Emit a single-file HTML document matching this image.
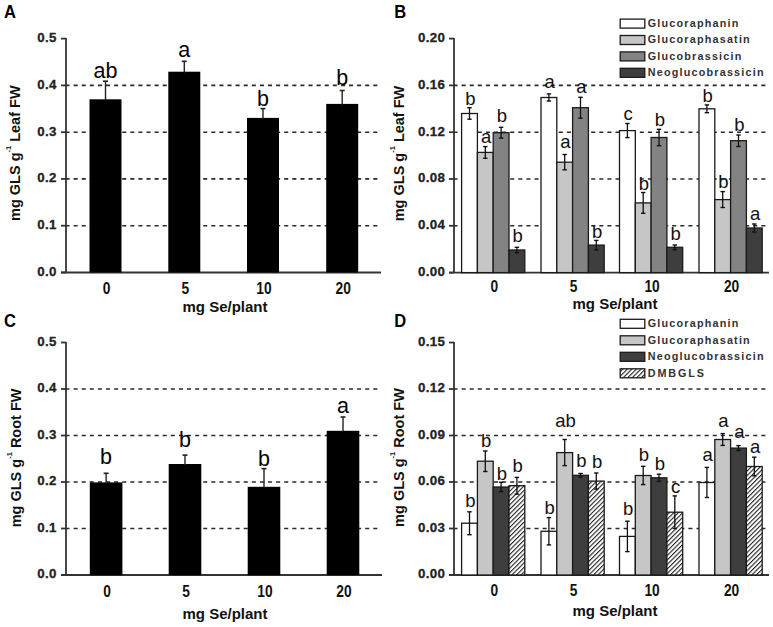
<!DOCTYPE html>
<html><head><meta charset="utf-8"><style>
html,body{margin:0;padding:0;background:#fff;}
svg{display:block;}
text{font-family:"Liberation Sans", sans-serif;}
.tick{font-size:13.3px;font-weight:bold;fill:#222;letter-spacing:0.3px;stroke:#222;stroke-width:0.3px;}
.ytitle{font-size:14.5px;font-weight:bold;fill:#111;}
.xtitle{font-size:15px;font-weight:bold;fill:#111;}
.xl{font-size:15.8px;font-weight:bold;fill:#111;}
.pl{font-size:17.8px;font-weight:bold;fill:#000;}
.sig{font-size:21.5px;fill:#000;}
.sig2{font-size:18.5px;fill:#111;}
.leg{font-size:10.8px;font-weight:bold;fill:#333;letter-spacing:1.2px;}
</style></head><body>
<svg width="773" height="627" viewBox="0 0 773 627">
<defs>
<pattern id="hatch" patternUnits="userSpaceOnUse" width="3.2" height="4" patternTransform="rotate(45)">
<rect width="3.2" height="4" fill="#fff"/><rect x="0" y="0" width="1.1" height="4" fill="#222"/>
</pattern>
</defs>
<rect width="773" height="627" fill="#fff"/>

<text transform="translate(4.1,17.6) scale(0.93,1)" class="pl">A</text>
<text transform="translate(394.3,17.6) scale(0.93,1)" class="pl">B</text>
<text transform="translate(4.1,326.8) scale(0.93,1)" class="pl">C</text>
<text transform="translate(394.3,326.8) scale(0.93,1)" class="pl">D</text>
<line x1="65.5" y1="85.4" x2="379" y2="85.4" stroke="#2a2a2a" stroke-width="1.6" stroke-dasharray="4.05 4.05"/>
<line x1="65.5" y1="132.2" x2="379" y2="132.2" stroke="#2a2a2a" stroke-width="1.6" stroke-dasharray="4.05 4.05"/>
<line x1="65.5" y1="178.9" x2="379" y2="178.9" stroke="#2a2a2a" stroke-width="1.6" stroke-dasharray="4.05 4.05"/>
<line x1="65.5" y1="225.7" x2="379" y2="225.7" stroke="#2a2a2a" stroke-width="1.6" stroke-dasharray="4.05 4.05"/>
<line x1="66" y1="38.1" x2="66" y2="272.5" stroke="#333" stroke-width="1.8"/>
<line x1="61" y1="272.5" x2="381" y2="272.5" stroke="#333" stroke-width="1.8"/>
<line x1="61" y1="38.6" x2="66" y2="38.6" stroke="#333" stroke-width="1.8"/>
<text x="56.7" y="41.9" text-anchor="end" class="tick">0.5</text>
<line x1="61" y1="85.4" x2="66" y2="85.4" stroke="#333" stroke-width="1.8"/>
<text x="56.7" y="88.7" text-anchor="end" class="tick">0.4</text>
<line x1="61" y1="132.2" x2="66" y2="132.2" stroke="#333" stroke-width="1.8"/>
<text x="56.7" y="135.5" text-anchor="end" class="tick">0.3</text>
<line x1="61" y1="178.9" x2="66" y2="178.9" stroke="#333" stroke-width="1.8"/>
<text x="56.7" y="182.2" text-anchor="end" class="tick">0.2</text>
<line x1="61" y1="225.7" x2="66" y2="225.7" stroke="#333" stroke-width="1.8"/>
<text x="56.7" y="229.0" text-anchor="end" class="tick">0.1</text>
<line x1="61" y1="272.5" x2="66" y2="272.5" stroke="#333" stroke-width="1.8"/>
<text x="56.7" y="275.8" text-anchor="end" class="tick">0.0</text>
<text transform="translate(20.4,153.2) rotate(-90) scale(1.0,1)" text-anchor="middle" class="ytitle">mg GLS g<tspan dy="-9" font-size="7.5">-1</tspan><tspan dy="9"> Leaf FW</tspan></text>
<rect x="89.5" y="99.3" width="32" height="173.2" fill="#000"/>
<line x1="105.5" y1="81.2" x2="105.5" y2="100.3" stroke="#222" stroke-width="1.4"/>
<line x1="103.0" y1="81.2" x2="108.0" y2="81.2" stroke="#222" stroke-width="1.6"/>
<text x="105.5" y="78.1" text-anchor="middle" class="sig">ab</text>
<rect x="168.3" y="71.7" width="32" height="200.8" fill="#000"/>
<line x1="184.3" y1="61.3" x2="184.3" y2="72.7" stroke="#222" stroke-width="1.4"/>
<line x1="181.8" y1="61.3" x2="186.8" y2="61.3" stroke="#222" stroke-width="1.6"/>
<text x="184.3" y="56.5" text-anchor="middle" class="sig">a</text>
<rect x="247" y="117.9" width="32" height="154.6" fill="#000"/>
<line x1="263" y1="108.6" x2="263" y2="118.9" stroke="#222" stroke-width="1.4"/>
<line x1="260.5" y1="108.6" x2="265.5" y2="108.6" stroke="#222" stroke-width="1.6"/>
<text x="263" y="106.1" text-anchor="middle" class="sig">b</text>
<rect x="326.2" y="103.9" width="32" height="168.6" fill="#000"/>
<line x1="342.2" y1="90.5" x2="342.2" y2="104.9" stroke="#222" stroke-width="1.4"/>
<line x1="339.7" y1="90.5" x2="344.7" y2="90.5" stroke="#222" stroke-width="1.6"/>
<text x="342.2" y="85.0" text-anchor="middle" class="sig">b</text>
<text transform="translate(106.5,293.8) scale(0.87,1)" text-anchor="middle" class="xl">0</text>
<text transform="translate(185.3,293.8) scale(0.87,1)" text-anchor="middle" class="xl">5</text>
<text transform="translate(264.0,293.8) scale(0.87,1)" text-anchor="middle" class="xl">10</text>
<text transform="translate(343.2,293.8) scale(0.87,1)" text-anchor="middle" class="xl">20</text>
<text x="225" y="312" text-anchor="middle" class="xtitle">mg Se/plant</text>
<line x1="65.5" y1="389.0" x2="380" y2="389.0" stroke="#2a2a2a" stroke-width="1.6" stroke-dasharray="4.05 4.05"/>
<line x1="65.5" y1="435.5" x2="380" y2="435.5" stroke="#2a2a2a" stroke-width="1.6" stroke-dasharray="4.05 4.05"/>
<line x1="65.5" y1="482.0" x2="380" y2="482.0" stroke="#2a2a2a" stroke-width="1.6" stroke-dasharray="4.05 4.05"/>
<line x1="65.5" y1="528.5" x2="380" y2="528.5" stroke="#2a2a2a" stroke-width="1.6" stroke-dasharray="4.05 4.05"/>
<line x1="66" y1="342.0" x2="66" y2="575" stroke="#333" stroke-width="1.8"/>
<line x1="61" y1="575" x2="382" y2="575" stroke="#333" stroke-width="1.8"/>
<line x1="61" y1="342.5" x2="66" y2="342.5" stroke="#333" stroke-width="1.8"/>
<text x="56.7" y="345.8" text-anchor="end" class="tick">0.5</text>
<line x1="61" y1="389.0" x2="66" y2="389.0" stroke="#333" stroke-width="1.8"/>
<text x="56.7" y="392.3" text-anchor="end" class="tick">0.4</text>
<line x1="61" y1="435.5" x2="66" y2="435.5" stroke="#333" stroke-width="1.8"/>
<text x="56.7" y="438.8" text-anchor="end" class="tick">0.3</text>
<line x1="61" y1="482.0" x2="66" y2="482.0" stroke="#333" stroke-width="1.8"/>
<text x="56.7" y="485.3" text-anchor="end" class="tick">0.2</text>
<line x1="61" y1="528.5" x2="66" y2="528.5" stroke="#333" stroke-width="1.8"/>
<text x="56.7" y="531.8" text-anchor="end" class="tick">0.1</text>
<line x1="61" y1="575.0" x2="66" y2="575.0" stroke="#333" stroke-width="1.8"/>
<text x="56.7" y="578.3" text-anchor="end" class="tick">0.0</text>
<text transform="translate(21.2,457.9) rotate(-90) scale(1.0,1)" text-anchor="middle" class="ytitle">mg GLS g<tspan dy="-9" font-size="7.5">-1</tspan><tspan dy="9"> Root FW</tspan></text>
<rect x="89.8" y="482.4" width="32.6" height="92.8" fill="#000"/>
<line x1="106.1" y1="473.3" x2="106.1" y2="483.4" stroke="#222" stroke-width="1.4"/>
<line x1="103.6" y1="473.3" x2="108.6" y2="473.3" stroke="#222" stroke-width="1.6"/>
<text x="106.1" y="464.4" text-anchor="middle" class="sig">b</text>
<rect x="168.7" y="464.0" width="32.6" height="111.2" fill="#000"/>
<line x1="185.0" y1="455.1" x2="185.0" y2="465.0" stroke="#222" stroke-width="1.4"/>
<line x1="182.5" y1="455.1" x2="187.5" y2="455.1" stroke="#222" stroke-width="1.6"/>
<text x="185.0" y="446.7" text-anchor="middle" class="sig">b</text>
<rect x="247.7" y="486.8" width="32.6" height="88.4" fill="#000"/>
<line x1="264.0" y1="468.6" x2="264.0" y2="487.8" stroke="#222" stroke-width="1.4"/>
<line x1="261.5" y1="468.6" x2="266.5" y2="468.6" stroke="#222" stroke-width="1.6"/>
<text x="264.0" y="465.8" text-anchor="middle" class="sig">b</text>
<rect x="326.7" y="430.8" width="32.6" height="144.4" fill="#000"/>
<line x1="343.0" y1="417.0" x2="343.0" y2="431.8" stroke="#222" stroke-width="1.4"/>
<line x1="340.5" y1="417.0" x2="345.5" y2="417.0" stroke="#222" stroke-width="1.6"/>
<text x="343.0" y="412.8" text-anchor="middle" class="sig">a</text>
<text transform="translate(107.1,597.2) scale(0.87,1)" text-anchor="middle" class="xl">0</text>
<text transform="translate(186.0,597.2) scale(0.87,1)" text-anchor="middle" class="xl">5</text>
<text transform="translate(265.0,597.2) scale(0.87,1)" text-anchor="middle" class="xl">10</text>
<text transform="translate(344.0,597.2) scale(0.87,1)" text-anchor="middle" class="xl">20</text>
<text x="225" y="619" text-anchor="middle" class="xtitle">mg Se/plant</text>
<line x1="453.5" y1="85.4" x2="767" y2="85.4" stroke="#2a2a2a" stroke-width="1.6" stroke-dasharray="4.05 4.05"/>
<line x1="453.5" y1="132.2" x2="767" y2="132.2" stroke="#2a2a2a" stroke-width="1.6" stroke-dasharray="4.05 4.05"/>
<line x1="453.5" y1="179.0" x2="767" y2="179.0" stroke="#2a2a2a" stroke-width="1.6" stroke-dasharray="4.05 4.05"/>
<line x1="453.5" y1="225.8" x2="767" y2="225.8" stroke="#2a2a2a" stroke-width="1.6" stroke-dasharray="4.05 4.05"/>
<line x1="454" y1="38.1" x2="454" y2="272.6" stroke="#333" stroke-width="1.8"/>
<line x1="449" y1="272.6" x2="769" y2="272.6" stroke="#333" stroke-width="1.8"/>
<line x1="449" y1="38.6" x2="454" y2="38.6" stroke="#333" stroke-width="1.8"/>
<text x="445.2" y="41.9" text-anchor="end" class="tick">0.20</text>
<line x1="449" y1="85.4" x2="454" y2="85.4" stroke="#333" stroke-width="1.8"/>
<text x="445.2" y="88.7" text-anchor="end" class="tick">0.16</text>
<line x1="449" y1="132.2" x2="454" y2="132.2" stroke="#333" stroke-width="1.8"/>
<text x="445.2" y="135.5" text-anchor="end" class="tick">0.12</text>
<line x1="449" y1="179.0" x2="454" y2="179.0" stroke="#333" stroke-width="1.8"/>
<text x="445.2" y="182.3" text-anchor="end" class="tick">0.08</text>
<line x1="449" y1="225.8" x2="454" y2="225.8" stroke="#333" stroke-width="1.8"/>
<text x="445.2" y="229.1" text-anchor="end" class="tick">0.04</text>
<line x1="449" y1="272.6" x2="454" y2="272.6" stroke="#333" stroke-width="1.8"/>
<text x="445.2" y="275.9" text-anchor="end" class="tick">0.00</text>
<text transform="translate(404.4,153.5) rotate(-90) scale(1.0,1)" text-anchor="middle" class="ytitle">mg GLS g<tspan dy="-9" font-size="7.5">-1</tspan><tspan dy="9"> Leaf FW</tspan></text>
<rect x="461.6" y="113.5" width="15.8" height="159.1" fill="#ffffff" stroke="#1a1a1a" stroke-width="1.3"/>
<rect x="477.4" y="152.4" width="15.8" height="120.2" fill="#c6c6c6" stroke="#1a1a1a" stroke-width="1.3"/>
<rect x="493.2" y="132.7" width="15.8" height="139.9" fill="#838383" stroke="#1a1a1a" stroke-width="1.3"/>
<rect x="509.0" y="250.0" width="15.8" height="22.6" fill="#3e3e3e" stroke="#1a1a1a" stroke-width="1.3"/>
<rect x="541.0" y="97.5" width="15.8" height="175.1" fill="#ffffff" stroke="#1a1a1a" stroke-width="1.3"/>
<rect x="556.8" y="162.2" width="15.8" height="110.4" fill="#c6c6c6" stroke="#1a1a1a" stroke-width="1.3"/>
<rect x="572.6" y="107.7" width="15.8" height="164.9" fill="#838383" stroke="#1a1a1a" stroke-width="1.3"/>
<rect x="588.4" y="245.1" width="15.8" height="27.5" fill="#3e3e3e" stroke="#1a1a1a" stroke-width="1.3"/>
<rect x="619.5" y="130.6" width="15.8" height="142.0" fill="#ffffff" stroke="#1a1a1a" stroke-width="1.3"/>
<rect x="635.3" y="202.9" width="15.8" height="69.7" fill="#c6c6c6" stroke="#1a1a1a" stroke-width="1.3"/>
<rect x="651.1" y="137.5" width="15.8" height="135.1" fill="#838383" stroke="#1a1a1a" stroke-width="1.3"/>
<rect x="666.9" y="247.3" width="15.8" height="25.3" fill="#3e3e3e" stroke="#1a1a1a" stroke-width="1.3"/>
<rect x="699.0" y="108.8" width="15.8" height="163.8" fill="#ffffff" stroke="#1a1a1a" stroke-width="1.3"/>
<rect x="714.8" y="199.6" width="15.8" height="73.0" fill="#c6c6c6" stroke="#1a1a1a" stroke-width="1.3"/>
<rect x="730.6" y="140.7" width="15.8" height="131.9" fill="#838383" stroke="#1a1a1a" stroke-width="1.3"/>
<rect x="746.4" y="228.0" width="15.8" height="44.6" fill="#3e3e3e" stroke="#1a1a1a" stroke-width="1.3"/>
<line x1="469.5" y1="107.7" x2="469.5" y2="119.2" stroke="#111" stroke-width="1.3"/>
<line x1="467.3" y1="107.7" x2="471.7" y2="107.7" stroke="#111" stroke-width="1.4"/>
<line x1="467.3" y1="119.2" x2="471.7" y2="119.2" stroke="#111" stroke-width="1.4"/>
<text x="470.3" y="104.9" text-anchor="middle" class="sig2">b</text>
<line x1="485.3" y1="146.6" x2="485.3" y2="158.3" stroke="#111" stroke-width="1.3"/>
<line x1="483.1" y1="146.6" x2="487.5" y2="146.6" stroke="#111" stroke-width="1.4"/>
<line x1="483.1" y1="158.3" x2="487.5" y2="158.3" stroke="#111" stroke-width="1.4"/>
<text x="486.1" y="142.5" text-anchor="middle" class="sig2">a</text>
<line x1="501.1" y1="127.3" x2="501.1" y2="138.1" stroke="#111" stroke-width="1.3"/>
<line x1="498.9" y1="127.3" x2="503.3" y2="127.3" stroke="#111" stroke-width="1.4"/>
<line x1="498.9" y1="138.1" x2="503.3" y2="138.1" stroke="#111" stroke-width="1.4"/>
<text x="501.9" y="121.5" text-anchor="middle" class="sig2">b</text>
<line x1="516.9" y1="247.3" x2="516.9" y2="252.7" stroke="#111" stroke-width="1.3"/>
<line x1="514.7" y1="247.3" x2="519.1" y2="247.3" stroke="#111" stroke-width="1.4"/>
<line x1="514.7" y1="252.7" x2="519.1" y2="252.7" stroke="#111" stroke-width="1.4"/>
<text x="517.7" y="242.0" text-anchor="middle" class="sig2">b</text>
<line x1="548.9" y1="93.9" x2="548.9" y2="101.0" stroke="#111" stroke-width="1.3"/>
<line x1="546.7" y1="93.9" x2="551.1" y2="93.9" stroke="#111" stroke-width="1.4"/>
<line x1="546.7" y1="101.0" x2="551.1" y2="101.0" stroke="#111" stroke-width="1.4"/>
<text x="549.7" y="88.3" text-anchor="middle" class="sig2">a</text>
<line x1="564.7" y1="154.5" x2="564.7" y2="169.8" stroke="#111" stroke-width="1.3"/>
<line x1="562.5" y1="154.5" x2="566.9" y2="154.5" stroke="#111" stroke-width="1.4"/>
<line x1="562.5" y1="169.8" x2="566.9" y2="169.8" stroke="#111" stroke-width="1.4"/>
<text x="565.5" y="148.1" text-anchor="middle" class="sig2">a</text>
<line x1="580.5" y1="97.3" x2="580.5" y2="118.2" stroke="#111" stroke-width="1.3"/>
<line x1="578.3" y1="97.3" x2="582.7" y2="97.3" stroke="#111" stroke-width="1.4"/>
<line x1="578.3" y1="118.2" x2="582.7" y2="118.2" stroke="#111" stroke-width="1.4"/>
<text x="581.3" y="92.6" text-anchor="middle" class="sig2">a</text>
<line x1="596.3" y1="240.4" x2="596.3" y2="249.8" stroke="#111" stroke-width="1.3"/>
<line x1="594.1" y1="240.4" x2="598.5" y2="240.4" stroke="#111" stroke-width="1.4"/>
<line x1="594.1" y1="249.8" x2="598.5" y2="249.8" stroke="#111" stroke-width="1.4"/>
<text x="597.1" y="237.9" text-anchor="middle" class="sig2">b</text>
<line x1="627.4" y1="123.5" x2="627.4" y2="137.6" stroke="#111" stroke-width="1.3"/>
<line x1="625.2" y1="123.5" x2="629.6" y2="123.5" stroke="#111" stroke-width="1.4"/>
<line x1="625.2" y1="137.6" x2="629.6" y2="137.6" stroke="#111" stroke-width="1.4"/>
<text x="628.2" y="119.9" text-anchor="middle" class="sig2">c</text>
<line x1="643.2" y1="192.5" x2="643.2" y2="213.3" stroke="#111" stroke-width="1.3"/>
<line x1="641.0" y1="192.5" x2="645.4" y2="192.5" stroke="#111" stroke-width="1.4"/>
<line x1="641.0" y1="213.3" x2="645.4" y2="213.3" stroke="#111" stroke-width="1.4"/>
<text x="644.0" y="189.9" text-anchor="middle" class="sig2">b</text>
<line x1="659.0" y1="129.3" x2="659.0" y2="145.7" stroke="#111" stroke-width="1.3"/>
<line x1="656.8" y1="129.3" x2="661.2" y2="129.3" stroke="#111" stroke-width="1.4"/>
<line x1="656.8" y1="145.7" x2="661.2" y2="145.7" stroke="#111" stroke-width="1.4"/>
<text x="659.8" y="125.5" text-anchor="middle" class="sig2">b</text>
<line x1="674.8" y1="245.0" x2="674.8" y2="249.7" stroke="#111" stroke-width="1.3"/>
<line x1="672.6" y1="245.0" x2="677.0" y2="245.0" stroke="#111" stroke-width="1.4"/>
<line x1="672.6" y1="249.7" x2="677.0" y2="249.7" stroke="#111" stroke-width="1.4"/>
<text x="675.6" y="240.4" text-anchor="middle" class="sig2">b</text>
<line x1="706.9" y1="104.9" x2="706.9" y2="112.7" stroke="#111" stroke-width="1.3"/>
<line x1="704.7" y1="104.9" x2="709.1" y2="104.9" stroke="#111" stroke-width="1.4"/>
<line x1="704.7" y1="112.7" x2="709.1" y2="112.7" stroke="#111" stroke-width="1.4"/>
<text x="707.7" y="102.0" text-anchor="middle" class="sig2">b</text>
<line x1="722.7" y1="191.6" x2="722.7" y2="207.5" stroke="#111" stroke-width="1.3"/>
<line x1="720.5" y1="191.6" x2="724.9" y2="191.6" stroke="#111" stroke-width="1.4"/>
<line x1="720.5" y1="207.5" x2="724.9" y2="207.5" stroke="#111" stroke-width="1.4"/>
<text x="723.5" y="188.0" text-anchor="middle" class="sig2">b</text>
<line x1="738.5" y1="135.0" x2="738.5" y2="146.5" stroke="#111" stroke-width="1.3"/>
<line x1="736.3" y1="135.0" x2="740.7" y2="135.0" stroke="#111" stroke-width="1.4"/>
<line x1="736.3" y1="146.5" x2="740.7" y2="146.5" stroke="#111" stroke-width="1.4"/>
<text x="739.3" y="130.7" text-anchor="middle" class="sig2">b</text>
<line x1="754.3" y1="224.0" x2="754.3" y2="232.0" stroke="#111" stroke-width="1.3"/>
<line x1="752.1" y1="224.0" x2="756.5" y2="224.0" stroke="#111" stroke-width="1.4"/>
<line x1="752.1" y1="232.0" x2="756.5" y2="232.0" stroke="#111" stroke-width="1.4"/>
<text x="755.1" y="220.4" text-anchor="middle" class="sig2">a</text>
<text transform="translate(494.2,292.3) scale(0.87,1)" text-anchor="middle" class="xl">0</text>
<text transform="translate(573.6,292.3) scale(0.87,1)" text-anchor="middle" class="xl">5</text>
<text transform="translate(652.1,292.3) scale(0.87,1)" text-anchor="middle" class="xl">10</text>
<text transform="translate(731.6,292.3) scale(0.87,1)" text-anchor="middle" class="xl">20</text>
<text x="615" y="308.5" text-anchor="middle" class="xtitle">mg Se/plant</text>
<rect x="620.2" y="19.1" width="24.6" height="9" fill="#ffffff" stroke="#1a1a1a" stroke-width="1.3"/>
<text x="647.7" y="27.0" class="leg">Glucoraphanin</text>
<rect x="620.2" y="35.5" width="24.6" height="9" fill="#c6c6c6" stroke="#1a1a1a" stroke-width="1.3"/>
<text x="647.7" y="43.4" class="leg">Glucoraphasatin</text>
<rect x="620.2" y="51.9" width="24.6" height="9" fill="#838383" stroke="#1a1a1a" stroke-width="1.3"/>
<text x="647.7" y="59.8" class="leg">Glucobrassicin</text>
<rect x="620.2" y="68.3" width="24.6" height="9" fill="#3e3e3e" stroke="#1a1a1a" stroke-width="1.3"/>
<text x="647.7" y="76.2" class="leg">Neoglucobrassicin</text>
<line x1="453.5" y1="389.0" x2="767" y2="389.0" stroke="#2a2a2a" stroke-width="1.6" stroke-dasharray="4.05 4.05"/>
<line x1="453.5" y1="435.5" x2="767" y2="435.5" stroke="#2a2a2a" stroke-width="1.6" stroke-dasharray="4.05 4.05"/>
<line x1="453.5" y1="482.0" x2="767" y2="482.0" stroke="#2a2a2a" stroke-width="1.6" stroke-dasharray="4.05 4.05"/>
<line x1="453.5" y1="528.5" x2="767" y2="528.5" stroke="#2a2a2a" stroke-width="1.6" stroke-dasharray="4.05 4.05"/>
<line x1="454" y1="342.0" x2="454" y2="575" stroke="#333" stroke-width="1.8"/>
<line x1="449" y1="575" x2="769" y2="575" stroke="#333" stroke-width="1.8"/>
<line x1="449" y1="342.5" x2="454" y2="342.5" stroke="#333" stroke-width="1.8"/>
<text x="445.2" y="345.8" text-anchor="end" class="tick">0.15</text>
<line x1="449" y1="389.0" x2="454" y2="389.0" stroke="#333" stroke-width="1.8"/>
<text x="445.2" y="392.3" text-anchor="end" class="tick">0.12</text>
<line x1="449" y1="435.5" x2="454" y2="435.5" stroke="#333" stroke-width="1.8"/>
<text x="445.2" y="438.8" text-anchor="end" class="tick">0.09</text>
<line x1="449" y1="482.0" x2="454" y2="482.0" stroke="#333" stroke-width="1.8"/>
<text x="445.2" y="485.3" text-anchor="end" class="tick">0.06</text>
<line x1="449" y1="528.5" x2="454" y2="528.5" stroke="#333" stroke-width="1.8"/>
<text x="445.2" y="531.8" text-anchor="end" class="tick">0.03</text>
<line x1="449" y1="575.0" x2="454" y2="575.0" stroke="#333" stroke-width="1.8"/>
<text x="445.2" y="578.3" text-anchor="end" class="tick">0.00</text>
<text transform="translate(404.2,457.5) rotate(-90) scale(1.0,1)" text-anchor="middle" class="ytitle">mg GLS g<tspan dy="-9" font-size="7.5">-1</tspan><tspan dy="9"> Root FW</tspan></text>
<rect x="461.6" y="523.2" width="15.8" height="51.8" fill="#ffffff" stroke="#1a1a1a" stroke-width="1.3"/>
<rect x="477.4" y="461.2" width="15.8" height="113.8" fill="#c6c6c6" stroke="#1a1a1a" stroke-width="1.3"/>
<rect x="493.2" y="487.0" width="15.8" height="88.0" fill="#3e3e3e" stroke="#1a1a1a" stroke-width="1.3"/>
<rect x="509.0" y="485.7" width="15.8" height="89.3" fill="url(#hatch)" stroke="#1a1a1a" stroke-width="1.3"/>
<rect x="541.0" y="531.3" width="15.8" height="43.7" fill="#ffffff" stroke="#1a1a1a" stroke-width="1.3"/>
<rect x="556.8" y="452.6" width="15.8" height="122.4" fill="#c6c6c6" stroke="#1a1a1a" stroke-width="1.3"/>
<rect x="572.6" y="475.3" width="15.8" height="99.7" fill="#3e3e3e" stroke="#1a1a1a" stroke-width="1.3"/>
<rect x="588.4" y="481.1" width="15.8" height="93.9" fill="url(#hatch)" stroke="#1a1a1a" stroke-width="1.3"/>
<rect x="619.5" y="536.4" width="15.8" height="38.6" fill="#ffffff" stroke="#1a1a1a" stroke-width="1.3"/>
<rect x="635.3" y="475.5" width="15.8" height="99.5" fill="#c6c6c6" stroke="#1a1a1a" stroke-width="1.3"/>
<rect x="651.1" y="477.8" width="15.8" height="97.2" fill="#3e3e3e" stroke="#1a1a1a" stroke-width="1.3"/>
<rect x="666.9" y="512.2" width="15.8" height="62.8" fill="url(#hatch)" stroke="#1a1a1a" stroke-width="1.3"/>
<rect x="699.0" y="482.5" width="15.8" height="92.5" fill="#ffffff" stroke="#1a1a1a" stroke-width="1.3"/>
<rect x="714.8" y="439.5" width="15.8" height="135.5" fill="#c6c6c6" stroke="#1a1a1a" stroke-width="1.3"/>
<rect x="730.6" y="448.1" width="15.8" height="126.9" fill="#3e3e3e" stroke="#1a1a1a" stroke-width="1.3"/>
<rect x="746.4" y="466.5" width="15.8" height="108.5" fill="url(#hatch)" stroke="#1a1a1a" stroke-width="1.3"/>
<line x1="469.5" y1="511.8" x2="469.5" y2="534.7" stroke="#111" stroke-width="1.3"/>
<line x1="467.3" y1="511.8" x2="471.7" y2="511.8" stroke="#111" stroke-width="1.4"/>
<line x1="467.3" y1="534.7" x2="471.7" y2="534.7" stroke="#111" stroke-width="1.4"/>
<text x="470.3" y="506.6" text-anchor="middle" class="sig2">b</text>
<line x1="485.3" y1="451.0" x2="485.3" y2="471.5" stroke="#111" stroke-width="1.3"/>
<line x1="483.1" y1="451.0" x2="487.5" y2="451.0" stroke="#111" stroke-width="1.4"/>
<line x1="483.1" y1="471.5" x2="487.5" y2="471.5" stroke="#111" stroke-width="1.4"/>
<text x="486.1" y="446.8" text-anchor="middle" class="sig2">b</text>
<line x1="501.1" y1="482.3" x2="501.1" y2="491.6" stroke="#111" stroke-width="1.3"/>
<line x1="498.9" y1="482.3" x2="503.3" y2="482.3" stroke="#111" stroke-width="1.4"/>
<line x1="498.9" y1="491.6" x2="503.3" y2="491.6" stroke="#111" stroke-width="1.4"/>
<text x="501.9" y="479.9" text-anchor="middle" class="sig2">b</text>
<line x1="516.9" y1="477.4" x2="516.9" y2="494.1" stroke="#111" stroke-width="1.3"/>
<line x1="514.7" y1="477.4" x2="519.1" y2="477.4" stroke="#111" stroke-width="1.4"/>
<line x1="514.7" y1="494.1" x2="519.1" y2="494.1" stroke="#111" stroke-width="1.4"/>
<text x="517.7" y="471.7" text-anchor="middle" class="sig2">b</text>
<line x1="548.9" y1="517.6" x2="548.9" y2="544.9" stroke="#111" stroke-width="1.3"/>
<line x1="546.7" y1="517.6" x2="551.1" y2="517.6" stroke="#111" stroke-width="1.4"/>
<line x1="546.7" y1="544.9" x2="551.1" y2="544.9" stroke="#111" stroke-width="1.4"/>
<text x="549.7" y="514.3" text-anchor="middle" class="sig2">b</text>
<line x1="564.7" y1="439.5" x2="564.7" y2="465.6" stroke="#111" stroke-width="1.3"/>
<line x1="562.5" y1="439.5" x2="566.9" y2="439.5" stroke="#111" stroke-width="1.4"/>
<line x1="562.5" y1="465.6" x2="566.9" y2="465.6" stroke="#111" stroke-width="1.4"/>
<text x="565.5" y="427.4" text-anchor="middle" class="sig2">ab</text>
<line x1="580.5" y1="473.5" x2="580.5" y2="477.2" stroke="#111" stroke-width="1.3"/>
<line x1="578.3" y1="473.5" x2="582.7" y2="473.5" stroke="#111" stroke-width="1.4"/>
<line x1="578.3" y1="477.2" x2="582.7" y2="477.2" stroke="#111" stroke-width="1.4"/>
<text x="581.3" y="467.1" text-anchor="middle" class="sig2">b</text>
<line x1="596.3" y1="473.0" x2="596.3" y2="489.1" stroke="#111" stroke-width="1.3"/>
<line x1="594.1" y1="473.0" x2="598.5" y2="473.0" stroke="#111" stroke-width="1.4"/>
<line x1="594.1" y1="489.1" x2="598.5" y2="489.1" stroke="#111" stroke-width="1.4"/>
<text x="597.1" y="467.9" text-anchor="middle" class="sig2">b</text>
<line x1="627.4" y1="521.2" x2="627.4" y2="551.6" stroke="#111" stroke-width="1.3"/>
<line x1="625.2" y1="521.2" x2="629.6" y2="521.2" stroke="#111" stroke-width="1.4"/>
<line x1="625.2" y1="551.6" x2="629.6" y2="551.6" stroke="#111" stroke-width="1.4"/>
<text x="628.2" y="514.8" text-anchor="middle" class="sig2">b</text>
<line x1="643.2" y1="466.3" x2="643.2" y2="484.6" stroke="#111" stroke-width="1.3"/>
<line x1="641.0" y1="466.3" x2="645.4" y2="466.3" stroke="#111" stroke-width="1.4"/>
<line x1="641.0" y1="484.6" x2="645.4" y2="484.6" stroke="#111" stroke-width="1.4"/>
<text x="644.0" y="460.8" text-anchor="middle" class="sig2">b</text>
<line x1="659.0" y1="474.2" x2="659.0" y2="481.4" stroke="#111" stroke-width="1.3"/>
<line x1="656.8" y1="474.2" x2="661.2" y2="474.2" stroke="#111" stroke-width="1.4"/>
<line x1="656.8" y1="481.4" x2="661.2" y2="481.4" stroke="#111" stroke-width="1.4"/>
<text x="659.8" y="469.7" text-anchor="middle" class="sig2">b</text>
<line x1="674.8" y1="495.9" x2="674.8" y2="528.5" stroke="#111" stroke-width="1.3"/>
<line x1="672.6" y1="495.9" x2="677.0" y2="495.9" stroke="#111" stroke-width="1.4"/>
<line x1="672.6" y1="528.5" x2="677.0" y2="528.5" stroke="#111" stroke-width="1.4"/>
<text x="675.6" y="493.4" text-anchor="middle" class="sig2">c</text>
<line x1="706.9" y1="467.4" x2="706.9" y2="497.5" stroke="#111" stroke-width="1.3"/>
<line x1="704.7" y1="467.4" x2="709.1" y2="467.4" stroke="#111" stroke-width="1.4"/>
<line x1="704.7" y1="497.5" x2="709.1" y2="497.5" stroke="#111" stroke-width="1.4"/>
<text x="707.7" y="461.3" text-anchor="middle" class="sig2">a</text>
<line x1="722.7" y1="433.6" x2="722.7" y2="445.4" stroke="#111" stroke-width="1.3"/>
<line x1="720.5" y1="433.6" x2="724.9" y2="433.6" stroke="#111" stroke-width="1.4"/>
<line x1="720.5" y1="445.4" x2="724.9" y2="445.4" stroke="#111" stroke-width="1.4"/>
<text x="723.5" y="427.4" text-anchor="middle" class="sig2">a</text>
<line x1="738.5" y1="445.6" x2="738.5" y2="450.5" stroke="#111" stroke-width="1.3"/>
<line x1="736.3" y1="445.6" x2="740.7" y2="445.6" stroke="#111" stroke-width="1.4"/>
<line x1="736.3" y1="450.5" x2="740.7" y2="450.5" stroke="#111" stroke-width="1.4"/>
<text x="739.3" y="437.8" text-anchor="middle" class="sig2">a</text>
<line x1="754.3" y1="457.2" x2="754.3" y2="475.8" stroke="#111" stroke-width="1.3"/>
<line x1="752.1" y1="457.2" x2="756.5" y2="457.2" stroke="#111" stroke-width="1.4"/>
<line x1="752.1" y1="475.8" x2="756.5" y2="475.8" stroke="#111" stroke-width="1.4"/>
<text x="755.1" y="452.6" text-anchor="middle" class="sig2">a</text>
<text transform="translate(494.2,595.5) scale(0.87,1)" text-anchor="middle" class="xl">0</text>
<text transform="translate(573.6,595.5) scale(0.87,1)" text-anchor="middle" class="xl">5</text>
<text transform="translate(652.1,595.5) scale(0.87,1)" text-anchor="middle" class="xl">10</text>
<text transform="translate(731.6,595.5) scale(0.87,1)" text-anchor="middle" class="xl">20</text>
<text x="615" y="615.9" text-anchor="middle" class="xtitle">mg Se/plant</text>
<rect x="620.2" y="319.3" width="24.6" height="9" fill="#ffffff" stroke="#1a1a1a" stroke-width="1.3"/>
<text x="647.7" y="327.2" class="leg">Glucoraphanin</text>
<rect x="620.2" y="335.8" width="24.6" height="9" fill="#c6c6c6" stroke="#1a1a1a" stroke-width="1.3"/>
<text x="647.7" y="343.7" class="leg">Glucoraphasatin</text>
<rect x="620.2" y="352.3" width="24.6" height="9" fill="#3e3e3e" stroke="#1a1a1a" stroke-width="1.3"/>
<text x="647.7" y="360.2" class="leg">Neoglucobrassicin</text>
<rect x="620.2" y="368.8" width="24.6" height="9" fill="url(#hatch)" stroke="#1a1a1a" stroke-width="1.3"/>
<text x="647.7" y="376.7" class="leg" style="letter-spacing:1.9px">DMBGLS</text>
</svg></body></html>
